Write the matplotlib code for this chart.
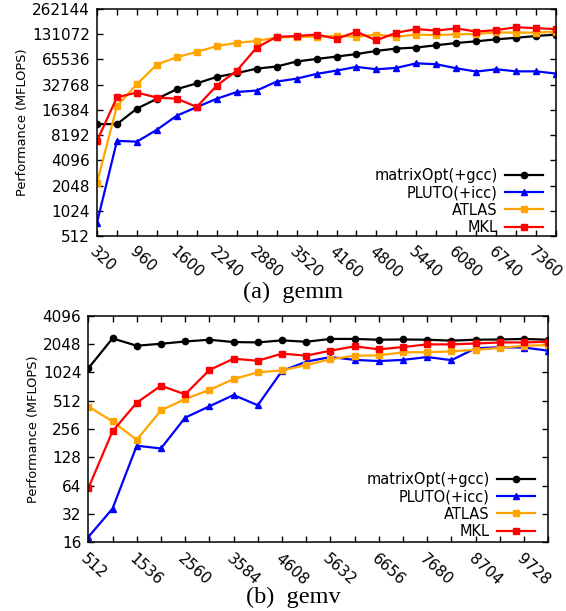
#!/usr/bin/env python3
"""
Performance of matrixOpt vs PLUTO, ATLAS and MKL on gemm and gemv (log2 scale).
"""

import matplotlib
matplotlib.use("Agg")
import matplotlib.pyplot as plt

# gemm: problem sizes and MFLOPS per implementation
gemm_sizes = [320, 640, 960, 1280, 1600, 1920, 2240, 2560, 2880, 3200, 3520, 3840,
              4160, 4480, 4800, 5120, 5440, 5760, 6080, 6400, 6720, 7040, 7360, 7680]
gemm_matrixopt = [11100, 11100, 17000, 22200, 29000, 34000, 40600, 45000, 51000, 54000, 62000, 66500,
                  71000, 76000, 83000, 88500, 91000, 97000, 103000, 108000, 114000, 119000, 125000, 130000]
gemm_pluto = [739, 7000, 6850, 9500, 14000, 17700, 22300, 26800, 27900, 35700, 38700, 44100,
              48300, 53500, 50100, 52000, 59000, 57500, 51500, 47000, 50100, 47300, 47300, 44500]
gemm_atlas = [2220, 18300, 33200, 57000, 69800, 80700, 94600, 103500, 109000, 120000, 122000, 122500,
              125000, 122500, 130000, 122500, 130000, 128000, 131000, 132000, 138000, 137000, 137000, 141000]
gemm_mkl = [7000, 23200, 26400, 23000, 22300, 17800, 32000, 48000, 91000, 122000, 125000, 130000,
            116000, 140000, 111000, 137000, 151000, 145000, 154000, 141000, 147000, 159000, 155000, 151000]
gemm_xlabels = ["320", "960", "1600", "2240", "2880", "3520", "4160", "4800", "5440", "6080", "6740", "7360"]
gemm_yticks = [512, 1024, 2048, 4096, 8192, 16384, 32768, 65536, 131072, 262144]

# gemv
gemv_sizes = [512, 1024, 1536, 2048, 2560, 3072, 3584, 4096, 4608, 5120,
              5632, 6144, 6656, 7168, 7680, 8192, 8704, 9216, 9728, 10240]
gemv_matrixopt = [1130, 2350, 1965, 2060, 2180, 2275, 2150, 2130, 2240, 2165,
                  2320, 2320, 2275, 2290, 2275, 2225, 2275, 2290, 2320, 2275]
gemv_pluto = [18.2, 36.5, 170, 159, 338, 446, 588, 458, 1060, 1330,
              1490, 1390, 1350, 1390, 1490, 1380, 1845, 1890, 1880, 1740]
gemv_atlas = [443, 309, 196, 404, 533, 665, 868, 1024, 1075, 1225,
              1410, 1540, 1550, 1675, 1675, 1710, 1780, 1860, 1965, 1995]
gemv_mkl = [60, 242, 487, 739, 598, 1083, 1430, 1360, 1620, 1540,
            1740, 1935, 1800, 1900, 2030, 2030, 2075, 2130, 2130, 2165]
gemv_xlabels = ["512", "1536", "2560", "3584", "4608", "5632", "6656", "7680", "8704", "9728"]
gemv_yticks = [16, 32, 64, 128, 256, 512, 1024, 2048, 4096]

labels = ["matrixOpt(+gcc)", "PLUTO(+icc)", "ATLAS", "MKL"]
styles = [
    dict(color="black", marker="o", markersize=4.5),
    dict(color="blue", marker="^", markersize=4.5),
    dict(color="orange", marker="s", markersize=5),
    dict(color="red", marker="s", markersize=4.5),
]


def draw(ax, sizes, series, xlabels, yticks, legend_y):
    for vals, lab, st in zip(series, labels, styles):
        ax.plot(sizes, vals, linewidth=1.6, label=lab, **st)
    ax.set_yscale("log", base=2)
    ax.set_ylim(yticks[0], yticks[-1])
    ax.set_yticks(yticks)
    ax.set_yticklabels([str(t) for t in yticks])
    ax.minorticks_off()
    ax.set_xlim(sizes[0], sizes[-1])
    ax.set_xticks(sizes)
    ax.set_xticklabels([xlabels[i // 2] if i % 2 == 0 else "" for i in range(len(sizes))])
    plt.setp(ax.get_xticklabels(), rotation=-42, ha="left", va="top", rotation_mode="anchor")
    ax.tick_params(direction="in", top=True, right=True, length=4, width=1,
                   labelsize=11, pad=5)
    ax.tick_params(axis="x", pad=6)
    for sp in ax.spines.values():
        sp.set_linewidth(1.1)
    ax.set_ylabel("Performance (MFLOPS)", fontsize=9.3, labelpad=2)
    ax.legend(loc="lower right", bbox_to_anchor=(0.984, legend_y), frameon=False,
              markerfirst=False, fontsize=10.5, handlelength=2.6, labelspacing=0.15,
              borderaxespad=0, borderpad=0.4, handletextpad=0.5)


def main():
    fig = plt.figure(figsize=(5.66, 6.11), dpi=100)
    ax1 = fig.add_axes([0.1714, 0.6137, 0.811, 0.3715])
    ax2 = fig.add_axes([0.156, 0.1124, 0.8127, 0.3709])

    draw(ax1, gemm_sizes, [gemm_matrixopt, gemm_pluto, gemm_atlas, gemm_mkl],
         gemm_xlabels, gemm_yticks, -0.02)
    draw(ax2, gemv_sizes, [gemv_matrixopt, gemv_pluto, gemv_atlas, gemv_mkl],
         gemv_xlabels, gemv_yticks, -0.01)

    fig.text(293 / 566, 1 - 292 / 611, "(a)  gemm", family="Liberation Serif", fontsize=17.5,
             ha="center", va="center")
    fig.text(293 / 566, 1 - 597 / 611, "(b)  gemv", family="Liberation Serif", fontsize=17.5,
             ha="center", va="center")

    fig.savefig("out.png", dpi=100)


if __name__ == "__main__":
    main()
